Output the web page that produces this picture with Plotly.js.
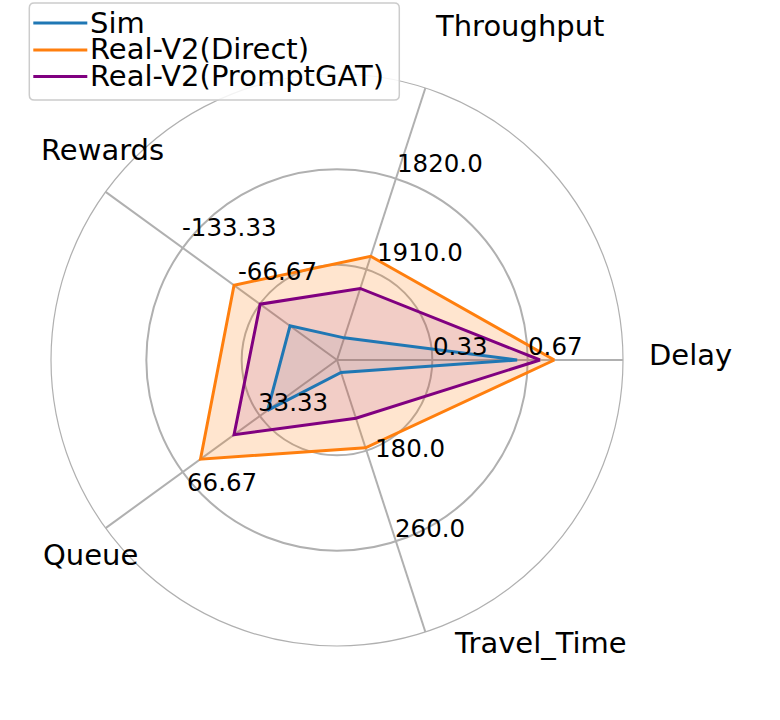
<!DOCTYPE html>
<html><head><meta charset="utf-8">
<script src="https://cdn.plot.ly/plotly-3.0.1.min.js"></script>
<style>html,body{margin:0;padding:0;background:#fff}</style>
</head><body><div id="chart" style="width:780px;height:720px"></div>
<script>
// ---- data ----
const categories = ['Delay', 'Throughput', 'Rewards', 'Queue', 'Travel_Time'];
const axisCentre = [0, 2000, 0, 0, 100];      // value at the centre of each spoke
const axisOuter = [1, 1730, -200, 100, 340];  // value at the outer ring
const seriesNames = ['Sim', 'Real-V2(Direct)', 'Real-V2(PromptGAT)'];
const simValues = [0.63, 1978, -40.6, 30, 111];
const directValues = [0.76, 1897, -89, 59, 177.5];
const promptgatValues = [0.71, 1929, -66.4, 44.5, 151.4];
const gridLevels = [1 / 3, 2 / 3];
const delayTicks = ['0.33', '0.67'];
const throughputTicks = ['1910.0', '1820.0'];
const rewardsTicks = ['-66.67', '-133.33'];
const queueTicks = ['33.33', '66.67'];
const travelTimeTicks = ['180.0', '260.0'];

// ---- style / layout ----
const colors = ['#1f77b4', '#ff7f0e', '#800080'];
const fills = ['rgba(31,119,180,0.1)', 'rgba(255,127,14,0.2)', 'rgba(128,0,128,0.1)'];
const FONT = 'DejaVu Sans, Liberation Sans, sans-serif';
const L = 50.7, T = 74, W = 572, H = 572;
const px = x => (x - L) / W;
const py = y => (T + H - y) / H;

function normalise(vals) {
  const r = vals.map((v, i) => (v - axisCentre[i]) / (axisOuter[i] - axisCentre[i]));
  return r.concat([r[0]]);
}
const thetaClosed = categories.concat([categories[0]]);
const allSeries = [simValues, directValues, promptgatValues];

// filled areas first, outlines on top
const fillTraces = allSeries.map((vals, i) => ({
  type: 'scatterpolar', r: normalise(vals), theta: thetaClosed,
  mode: 'lines', fill: 'toself', fillcolor: fills[i],
  line: {color: 'rgba(0,0,0,0)', width: 0},
  name: seriesNames[i], showlegend: false, hoverinfo: 'skip'
}));
const lineTraces = allSeries.map((vals, i) => ({
  type: 'scatterpolar', r: normalise(vals), theta: thetaClosed,
  mode: 'lines', line: {color: colors[i], width: 3},
  name: seriesNames[i], showlegend: false, hoverinfo: 'skip'
}));
const traces = fillTraces.concat(lineTraces);

const annotations = [];
// category labels
const catPos = [[690.3, 355], [519, 26], [102.5, 150], [90, 555], [540, 643]];
categories.forEach((c, i) => annotations.push({
  xref: 'paper', yref: 'paper', x: px(catPos[i][0]), y: py(catPos[i][1]),
  xanchor: 'center', yanchor: 'middle', showarrow: false, text: c,
  font: {family: FONT, size: 29, color: '#000'}
}));
// per-axis tick labels
const tickSets = [delayTicks, throughputTicks, rewardsTicks, queueTicks, travelTimeTicks];
const tickPos = [
  [[459.7, 346], [555, 346]],
  [[419.5, 252.5], [439.2, 163.3]],
  [[276.7, 271.7], [229.2, 227.5]],
  [[292.8, 402.5], [221.7, 482.2]],
  [[409.2, 448.3], [430, 528.3]]
];
tickSets.forEach((ticks, i) => ticks.forEach((t, j) => annotations.push({
  xref: 'paper', yref: 'paper', x: px(tickPos[i][j][0]), y: py(tickPos[i][j][1]),
  xanchor: 'center', yanchor: 'middle', showarrow: false, text: t,
  font: {family: FONT, size: 24.5, color: '#000'}
})));

// legend (drawn manually to match the compact layout)
const shapes = [];
const bx0 = 29, by0 = 3, bx1 = 399, by1 = 100, rr = 5;
const P = (x, y) => px(x) + ',' + py(y);
shapes.push({
  type: 'path', xref: 'paper', yref: 'paper',
  path: 'M' + P(bx0 + rr, by0) + ' L' + P(bx1 - rr, by0) + ' Q' + P(bx1, by0) + ' ' + P(bx1, by0 + rr) +
        ' L' + P(bx1, by1 - rr) + ' Q' + P(bx1, by1) + ' ' + P(bx1 - rr, by1) +
        ' L' + P(bx0 + rr, by1) + ' Q' + P(bx0, by1) + ' ' + P(bx0, by1 - rr) +
        ' L' + P(bx0, by0 + rr) + ' Q' + P(bx0, by0) + ' ' + P(bx0 + rr, by0) + ' Z',
  fillcolor: 'rgba(255,255,255,0.85)', line: {color: '#cccccc', width: 1.5}, layer: 'above'
});
const legY = [23, 50, 76.5];
seriesNames.forEach((n, i) => {
  shapes.push({type: 'line', xref: 'paper', yref: 'paper',
    x0: px(33), x1: px(87), y0: py(legY[i]), y1: py(legY[i]),
    line: {color: colors[i], width: 3}, layer: 'above'});
  annotations.push({xref: 'paper', yref: 'paper', x: px(88), y: py(legY[i] - 0.5),
    xanchor: 'left', yanchor: 'middle', showarrow: false, text: n,
    font: {family: FONT, size: 29, color: '#000'}});
});

const layout = {
  width: 780, height: 720,
  margin: {l: L, r: 780 - L - W, t: T, b: 720 - T - H, pad: 0},
  paper_bgcolor: 'white',
  showlegend: false,
  font: {family: FONT},
  polar: {
    domain: {x: [0, 1], y: [0, 1]},
    bgcolor: 'white',
    angularaxis: {
      type: 'category', categoryarray: categories, rotation: 0, direction: 'counterclockwise',
      showticklabels: false, ticks: '', showgrid: true, gridcolor: '#b0b0b0', gridwidth: 2,
      showline: true, linecolor: '#b0b0b0', linewidth: 1.2
    },
    radialaxis: {
      range: [0, 1], tickvals: gridLevels, showticklabels: false, ticks: '',
      showline: false, showgrid: true, gridcolor: '#b0b0b0', gridwidth: 2
    }
  },
  annotations: annotations,
  shapes: shapes
};

Plotly.newPlot('chart', traces, layout, {displayModeBar: false, staticPlot: true});
</script></body></html>
